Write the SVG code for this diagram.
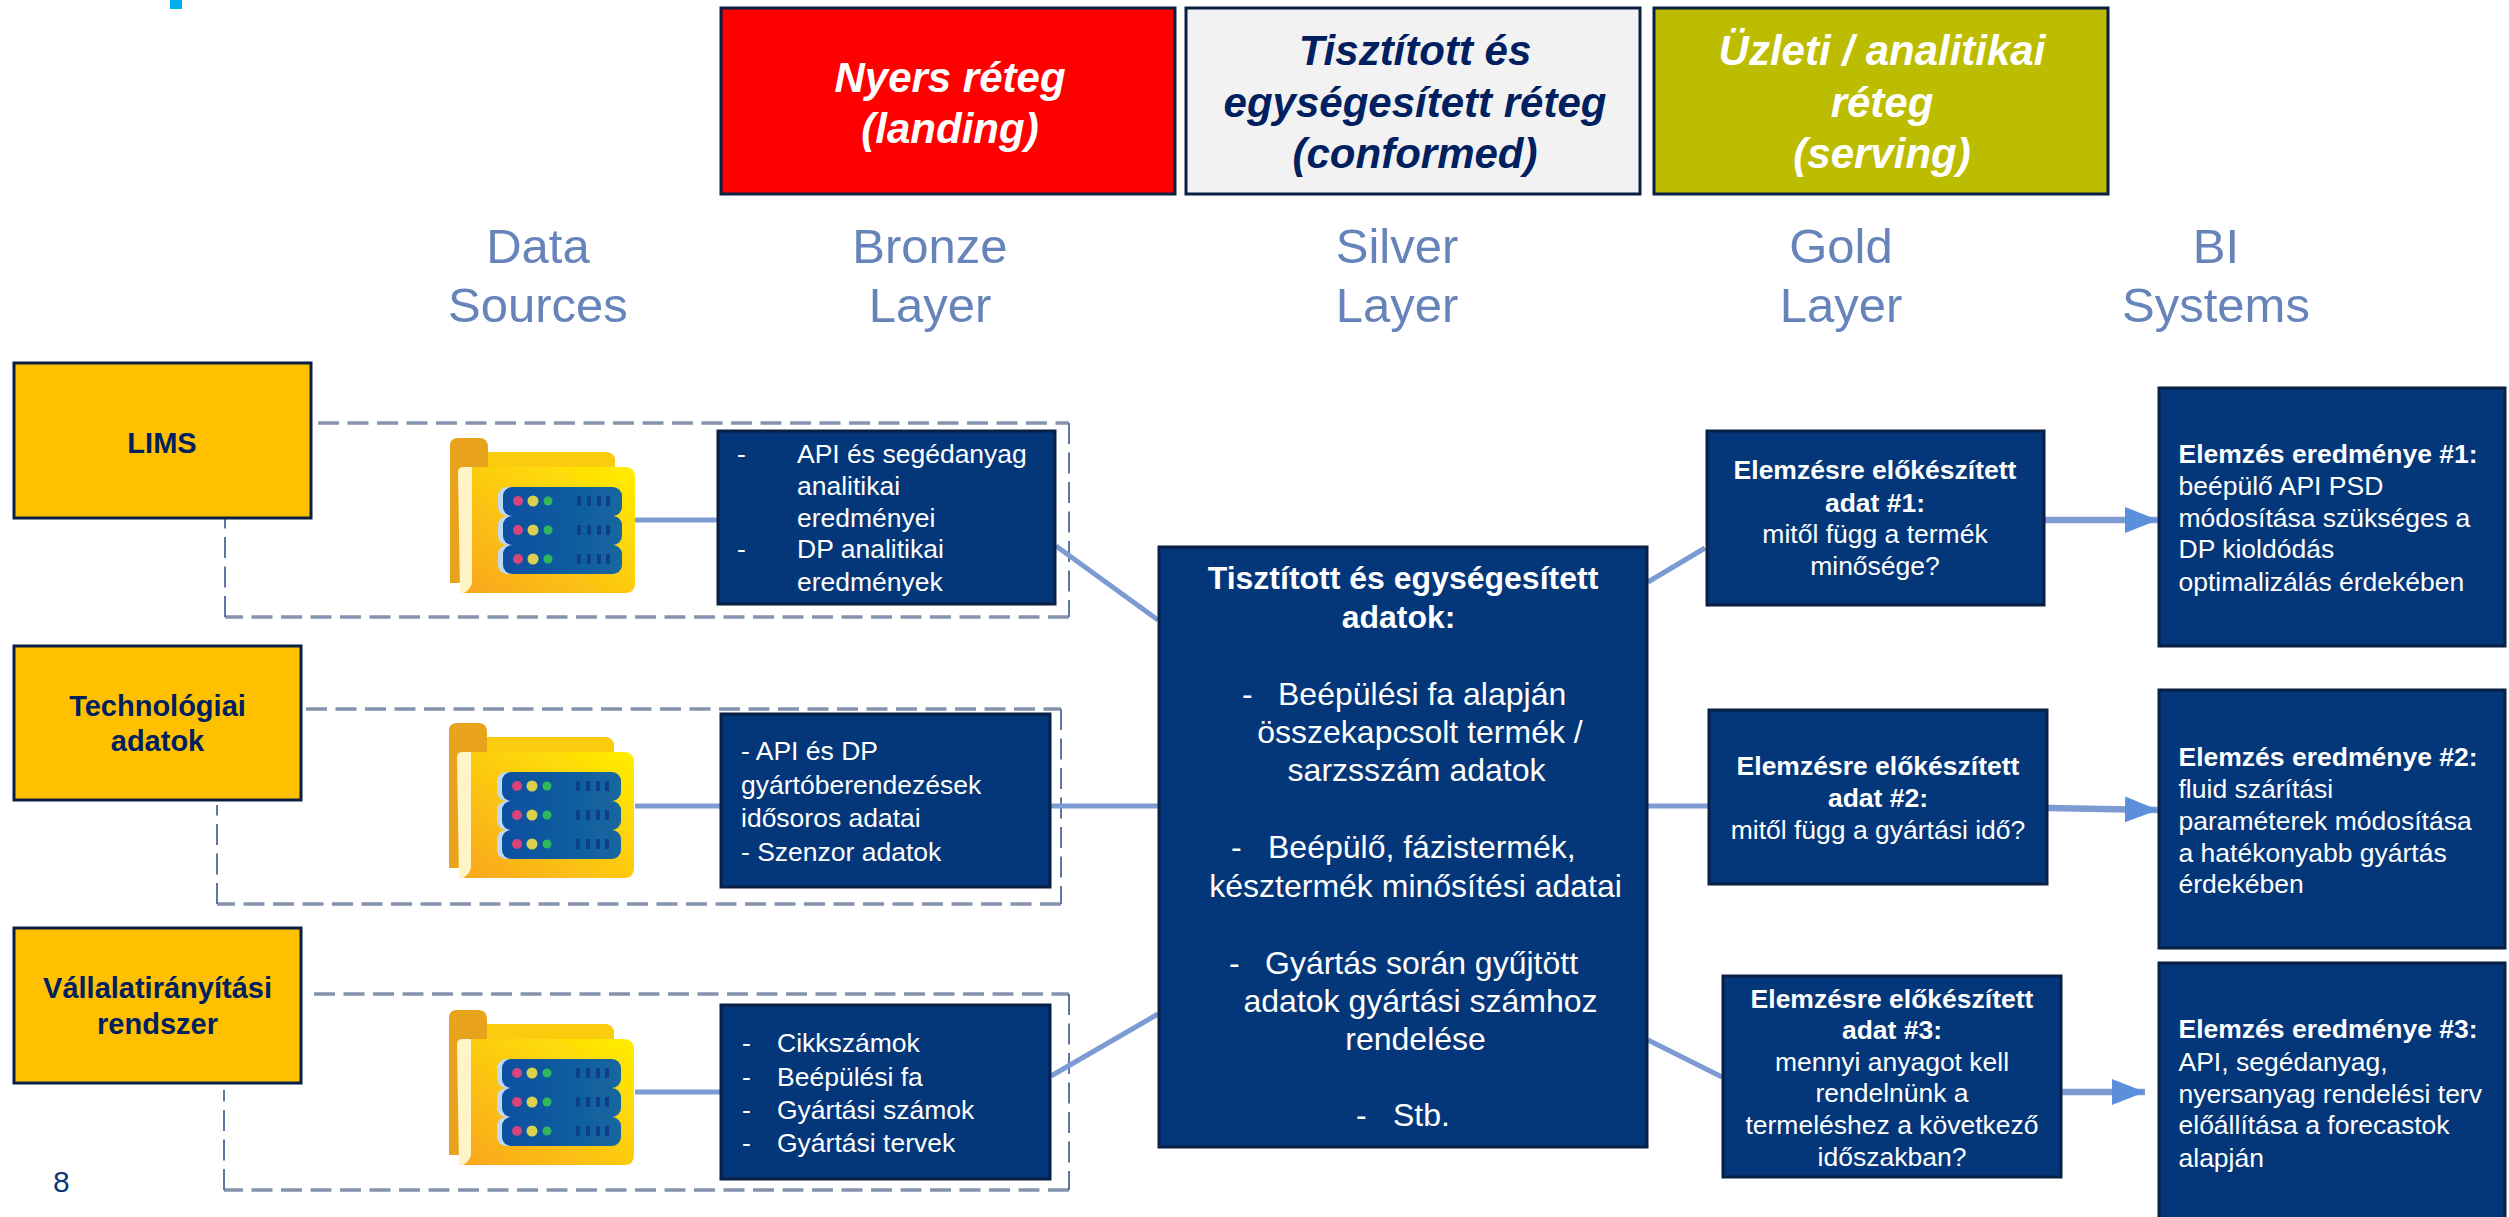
<svg xmlns="http://www.w3.org/2000/svg" width="2509" height="1217" viewBox="0 0 2509 1217">
<style>
text{font-family:"Liberation Sans",Arial,sans-serif}
.b{fill:#03377A;stroke:#0A1F44;stroke-width:3}
.y{fill:#FFC000;stroke:#0A1F44;stroke-width:3}
.t{fill:#fff;font-size:26.5px}
.c{text-anchor:middle}
.st{font-weight:700}
.s{fill:#002060;font-size:29px;font-weight:700;text-anchor:middle}
.h{fill:#6683BA;font-size:49px;text-anchor:middle;filter:url(#soft)}
.top{font-size:42px;font-weight:700;font-style:italic;text-anchor:middle}
.m{fill:#fff;font-size:32px}
.lnk{fill:none;stroke:#7C9BD3;stroke-width:5}
.arw{fill:none;stroke:#7C9BD3;stroke-width:6.500}
.dash{fill:none;stroke:#8592AE;stroke-width:3.300;stroke-dasharray:21 8.500}
.dashv{fill:none;stroke:#5E76A3;stroke-width:2;stroke-dasharray:21 8.500}
</style>
<defs>
<filter id="soft" x="-5%" y="-5%" width="110%" height="110%"><feGaussianBlur stdDeviation="0.7"/></filter>
<linearGradient id="fg" x1="0" y1="1" x2="1" y2="0"><stop offset="0" stop-color="#F9A61E"/><stop offset="1" stop-color="#FFEE00"/></linearGradient>
<linearGradient id="sg" x1="0" y1="0" x2="1" y2="0"><stop offset="0" stop-color="#0B4FA0"/><stop offset="1" stop-color="#14679F"/></linearGradient>
<marker id="arr" markerUnits="userSpaceOnUse" markerWidth="34" markerHeight="28" refX="33" refY="14" orient="auto"><path d="M0 1L33 14L0 27Z" fill="#5B8FDB"/></marker>
<g id="row"><rect x="48" y="0" width="30" height="29" rx="9" fill="#BFD9F2"/><rect x="53" y="0" width="119" height="29" rx="9" fill="url(#sg)"/><circle cx="68" cy="14" r="5" fill="#D8447A"/><circle cx="83" cy="14" r="5.500" fill="#DAD24F"/><circle cx="98" cy="14" r="4.500" fill="#2FB85A"/><path d="M129 9v10M139 9v10M149 9v10M158 9v10" stroke="#0B3F88" stroke-width="4"/></g>
<g id="folder" filter="url(#soft)">
<path d="M0 8Q0 0 8 0H30Q38 0 38 10V14H155Q165 14 165 24V40H10V145H0Z" fill="#E8A21A"/>
<path d="M38 14H155Q165 14 165 24V32H38Z" fill="#FBCB0F"/>
<path d="M8 34Q8 29 14 29H30V155H10Z" fill="#FFF4C8"/>
<path d="M22 29H175Q185 29 185 39V145Q185 155 175 155H14Q20 152 22 145Z" fill="url(#fg)"/>
<use href="#row" y="49"/><use href="#row" y="78"/><use href="#row" y="107"/>
</g>
</defs>
<rect width="2509" height="1217" fill="#fff"/>
<rect id="corner-mark" x="170" y="0" width="12" height="9" fill="#00B0F0"/>
<g id="connectors">
<path class="dash" d="M318 423H1069M1069 617H225"/>
<path class="dashv" d="M1069 423V617M225 617V519"/>
<path class="dash" d="M306 709H1061M1061 904H217"/>
<path class="dashv" d="M1061 709V904M217 904V805"/>
<path class="dash" d="M314 994H1069M1069 1190H224"/>
<path class="dashv" d="M1069 994V1190M224 1190V1090"/>
<path class="lnk" d="M635 520H717"/>
<path class="lnk" d="M635 806H720"/>
<path class="lnk" d="M635 1092H720"/>
<path class="lnk" d="M1056 546L1158 620"/>
<path class="lnk" d="M1051 806H1158"/>
<path class="lnk" d="M1051 1076L1158 1014"/>
<path class="lnk" d="M1648 582L1705 548"/>
<path class="lnk" d="M1648 806H1708"/>
<path class="lnk" d="M1648 1040L1722 1077"/>
<path class="arw" marker-end="url(#arr)" d="M2045 520H2158"/>
<path class="arw" marker-end="url(#arr)" d="M2048 808L2158 810"/>
<path class="arw" marker-end="url(#arr)" d="M2062 1092H2145"/>
</g>
<g id="layer-raw"><rect x="721" y="8" width="454" height="186" fill="#FF0000" stroke="#0A1F44" stroke-width="3"/><text class="top" fill="#fff"><tspan x="950" y="92">Nyers réteg</tspan><tspan x="950" y="143">(landing)</tspan></text></g>
<g id="layer-conformed"><rect x="1186" y="8" width="454" height="186" fill="#F2F2F2" stroke="#0A1F44" stroke-width="3"/><text class="top" fill="#002060"><tspan x="1415" y="65">Tisztított és</tspan><tspan x="1415" y="117">egységesített réteg</tspan><tspan x="1415" y="168">(conformed)</tspan></text></g>
<g id="layer-serving"><rect x="1654" y="8" width="454" height="186" fill="#BCBC00" stroke="#0A1F44" stroke-width="3"/><text class="top" fill="#fff"><tspan x="1882" y="65">Üzleti / analitikai</tspan><tspan x="1882" y="117">réteg</tspan><tspan x="1882" y="168">(serving)</tspan></text></g>
<g id="h-sources"><text class="h"><tspan x="538" y="263">Data</tspan><tspan x="538" y="322">Sources</tspan></text></g>
<g id="h-bronze"><text class="h"><tspan x="930" y="263">Bronze</tspan><tspan x="930" y="322">Layer</tspan></text></g>
<g id="h-silver"><text class="h"><tspan x="1397" y="263">Silver</tspan><tspan x="1397" y="322">Layer</tspan></text></g>
<g id="h-gold"><text class="h"><tspan x="1841" y="263">Gold</tspan><tspan x="1841" y="322">Layer</tspan></text></g>
<g id="h-bi"><text class="h"><tspan x="2216" y="263">BI</tspan><tspan x="2216" y="322">Systems</tspan></text></g>
<g id="src-lims"><rect class="y" x="14" y="363" width="297" height="155"/><text class="s" x="162" y="453">LIMS</text></g>
<g id="src-tech"><rect class="y" x="14" y="646" width="287" height="154"/><text class="s"><tspan x="157.500" y="716">Technológiai</tspan><tspan x="157.500" y="751">adatok</tspan></text></g>
<g id="src-erp"><rect class="y" x="14" y="928" width="287" height="155"/><text class="s"><tspan x="157.500" y="998">Vállalatirányítási</tspan><tspan x="157.500" y="1034">rendszer</tspan></text></g>
<g id="icon-1"><use href="#folder" x="450" y="438"/></g>
<g id="icon-2"><use href="#folder" x="449" y="723"/></g>
<g id="icon-3"><use href="#folder" x="449" y="1010"/></g>
<g id="bronze-1"><rect class="b" x="718" y="431" width="337" height="173"/><text class="t"><tspan x="737" y="463">-</tspan><tspan x="797" y="463">API és segédanyag</tspan><tspan x="797" y="495">analitikai</tspan><tspan x="797" y="527">eredményei</tspan><tspan x="737" y="558">-</tspan><tspan x="797" y="558">DP analitikai</tspan><tspan x="797" y="591">eredmények</tspan></text></g>
<g id="bronze-2"><rect class="b" x="721" y="714" width="329" height="173"/><text class="t"><tspan x="741" y="760">- API és DP</tspan><tspan x="741" y="794">gyártóberendezések</tspan><tspan x="741" y="827">idősoros adatai</tspan><tspan x="741" y="861">- Szenzor adatok</tspan></text></g>
<g id="bronze-3"><rect class="b" x="721" y="1005" width="329" height="174"/><text class="t"><tspan x="742" y="1052">-</tspan><tspan x="777" y="1052">Cikkszámok</tspan><tspan x="742" y="1086">-</tspan><tspan x="777" y="1086">Beépülési fa</tspan><tspan x="742" y="1119">-</tspan><tspan x="777" y="1119">Gyártási számok</tspan><tspan x="742" y="1152">-</tspan><tspan x="777" y="1152">Gyártási tervek</tspan></text></g>
<g id="silver"><rect class="b" x="1159" y="547" width="488" height="600"/><text class="m">
<tspan class="c st" x="1403" y="589">Tisztított és egységesített</tspan><tspan class="c st" x="1403" y="628">adatok:</tspan>
<tspan x="1242" y="705">-</tspan><tspan x="1278" y="705">Beépülési fa alapján</tspan><tspan class="c" x="1420" y="743">összekapcsolt termék /</tspan><tspan class="c" x="1421" y="781">sarzsszám adatok</tspan>
<tspan x="1231" y="858">-</tspan><tspan x="1268" y="858">Beépülő, fázistermék,</tspan><tspan class="c" x="1420" y="897">késztermék minősítési adatai</tspan>
<tspan x="1229" y="974">-</tspan><tspan x="1265" y="974">Gyártás során gyűjtött</tspan><tspan class="c" x="1420.500" y="1012">adatok gyártási számhoz</tspan><tspan class="c" x="1420" y="1050">rendelése</tspan>
<tspan x="1356" y="1126">-</tspan><tspan x="1393" y="1126">Stb.</tspan></text></g>
<g id="gold-1"><rect class="b" x="1707" y="431" width="337" height="174"/><text class="t c"><tspan class="st" x="1875" y="479">Elemzésre előkészített</tspan><tspan class="st" x="1875" y="512">adat #1:</tspan><tspan x="1875" y="543">mitől függ a termék</tspan><tspan x="1875" y="575">minősége?</tspan></text></g>
<g id="gold-2"><rect class="b" x="1709" y="710" width="338" height="174"/><text class="t c"><tspan class="st" x="1878" y="775">Elemzésre előkészített</tspan><tspan class="st" x="1878" y="807">adat #2:</tspan><tspan x="1878" y="839">mitől függ a gyártási idő?</tspan></text></g>
<g id="gold-3"><rect class="b" x="1723" y="976" width="338" height="201"/><text class="t c"><tspan class="st" x="1892" y="1008">Elemzésre előkészített</tspan><tspan class="st" x="1892" y="1039">adat #3:</tspan><tspan x="1892" y="1071">mennyi anyagot kell</tspan><tspan x="1892" y="1102">rendelnünk a</tspan><tspan x="1892" y="1134">termeléshez a következő</tspan><tspan x="1892" y="1166">időszakban?</tspan></text></g>
<g id="bi-1"><rect class="b" x="2159" y="388" width="346" height="258"/><text class="t"><tspan class="st" x="2178.500" y="463">Elemzés eredménye #1:</tspan><tspan x="2178.500" y="495">beépülő API PSD</tspan><tspan x="2178.500" y="527">módosítása szükséges a</tspan><tspan x="2178.500" y="558">DP kioldódás</tspan><tspan x="2178.500" y="591">optimalizálás érdekében</tspan></text></g>
<g id="bi-2"><rect class="b" x="2159" y="690" width="346" height="258"/><text class="t"><tspan class="st" x="2178.500" y="766">Elemzés eredménye #2:</tspan><tspan x="2178.500" y="798">fluid szárítási</tspan><tspan x="2178.500" y="830">paraméterek módosítása</tspan><tspan x="2178.500" y="862">a hatékonyabb gyártás</tspan><tspan x="2178.500" y="893">érdekében</tspan></text></g>
<g id="bi-3"><rect class="b" x="2159" y="963" width="346" height="260"/><text class="t"><tspan class="st" x="2178.500" y="1038">Elemzés eredménye #3:</tspan><tspan x="2178.500" y="1071">API, segédanyag,</tspan><tspan x="2178.500" y="1103">nyersanyag rendelési terv</tspan><tspan x="2178.500" y="1134">előállítása a forecastok</tspan><tspan x="2178.500" y="1167">alapján</tspan></text></g>
<text id="page-number" x="53" y="1192" font-size="30" fill="#0A3A7A">8</text>
</svg>
